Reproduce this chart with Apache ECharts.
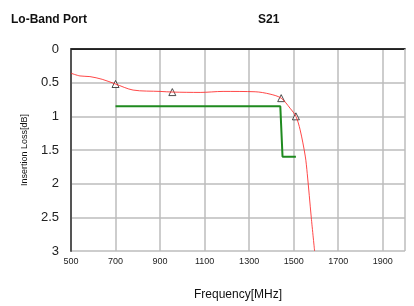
<!DOCTYPE html>
<html>
<head>
<meta charset="utf-8">
<script src="https://cdn.jsdelivr.net/npm/echarts@6/dist/echarts.min.js"></script>
<style>
  html, body { margin: 0; padding: 0; background: #fff; }
  #chart { width: 414px; height: 306px; }
</style>
</head>
<body>
<div id="chart"></div>
<script>
// measured S21 curve (frequency in MHz, insertion loss in dB)
var curveFreq = [500, 540, 585, 640, 700, 779, 900, 960, 1080, 1183, 1327, 1394, 1444, 1484, 1510, 1529, 1552, 1561, 1579, 1594];
var curveLoss = [0.36, 0.40, 0.41, 0.45, 0.52, 0.61, 0.63, 0.64, 0.645, 0.63, 0.635, 0.67, 0.73, 0.88, 1.0, 1.2, 1.59, 1.85, 2.5, 3.0];

// marker points
var markFreq = [700, 955, 1444, 1510];
var markLoss = [0.52, 0.64, 0.73, 1.0];

// spec limit line
var specFreq = [700, 1440, 1450, 1510];
var specLoss = [0.85, 0.85, 1.6, 1.6];

var yTicks = [0, 0.5, 1, 1.5, 2, 2.5, 3];

function zip(a, b) {
  return a.map(function (v, i) { return [v, b[i]]; });
}

var chart = echarts.init(document.getElementById("chart"));

var option = {
  animation: false,
  textStyle: { fontFamily: "Liberation Sans, Arial, sans-serif" },
  title: [
    {
      text: "Lo-Band Port",
      left: 6, top: 9,
      textStyle: { fontSize: 12, fontWeight: "bold", color: "#111" }
    },
    {
      text: "S21",
      left: 253, top: 9,
      textStyle: { fontSize: 12, fontWeight: "bold", color: "#111" }
    }
  ],
  grid: { left: 71, right: 9, top: 49, bottom: 54 },
  xAxis: {
    type: "value",
    min: 500,
    max: 2000,
    interval: 100,
    name: "Frequency[MHz]",
    nameLocation: "middle",
    nameGap: 38,
    nameTextStyle: { fontSize: 12, color: "#111" },
    axisLine: { lineStyle: { color: "#555", width: 2 } },
    axisTick: { show: false },
    axisLabel: {
      fontSize: 9,
      color: "#222",
      margin: 6,
      formatter: function (v) {
        return (v - 500) % 200 === 0 && v < 2000 ? String(v) : "";
      }
    },
    splitLine: {
      show: true,
      lineStyle: { color: ["#bdbdbd", "rgba(255,255,255,0)"], width: 1.5 }
    }
  },
  yAxis: {
    type: "value",
    inverse: true,
    min: 0,
    max: 3,
    interval: 0.5,
    name: "Insertion Loss[dB]",
    nameLocation: "middle",
    nameGap: 42,
    nameRotate: 90,
    nameTextStyle: { fontSize: 9, color: "#111" },
    axisLine: { show: true, lineStyle: { color: "#555", width: 2 } },
    axisTick: { show: false },
    axisLabel: {
      fontSize: 13,
      color: "#222",
      margin: 12,
      formatter: function (v) { return yTicks.indexOf(v) >= 0 ? String(v) : ""; }
    },
    splitLine: { show: true, lineStyle: { color: "#bdbdbd", width: 1.5 } }
  },
  series: [
    {
      // top border line
      type: "line",
      data: [[500, 0], [2000, 0]],
      symbol: "none",
      silent: true,
      lineStyle: { color: "#111", width: 1.5 }
    },
    {
      type: "line",
      data: [[2000, 0], [2000, 3]],
      symbol: "none",
      silent: true,
      lineStyle: { color: "#bdbdbd", width: 1.5 }
    },
    {
      name: "spec",
      type: "line",
      data: zip(specFreq, specLoss),
      symbol: "none",
      lineStyle: { color: "#1f8a1f", width: 2 }
    },
    {
      name: "S21",
      type: "line",
      smooth: 0.3,
      data: zip(curveFreq, curveLoss),
      symbol: "none",
      lineStyle: { color: "rgba(255,40,40,0.85)", width: 1 }
    },
    {
      name: "markers",
      type: "scatter",
      data: zip(markFreq, markLoss),
      symbol: "triangle",
      symbolSize: 7,
      itemStyle: { color: "#fff", borderColor: "#222", borderWidth: 1 }
    }
  ]
};

chart.setOption(option);
</script>
</body>
</html>
